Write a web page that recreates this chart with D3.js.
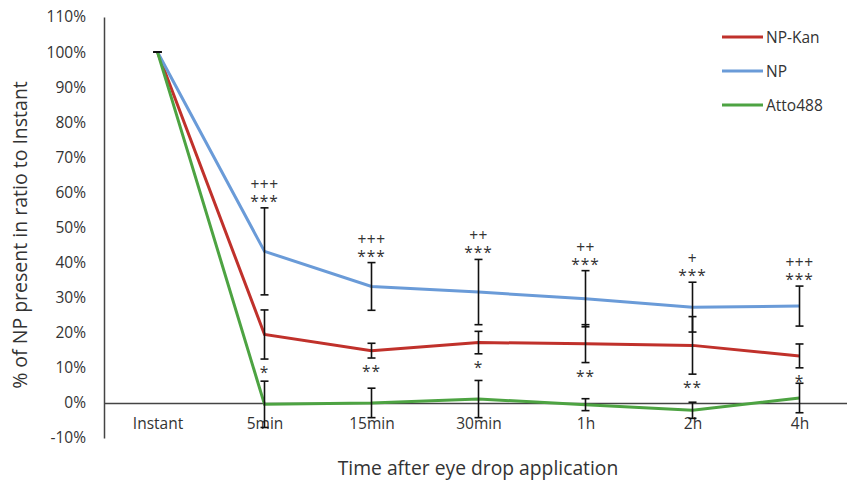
<!DOCTYPE html>
<html>
<head>
<meta charset="utf-8">
<script src="https://cdn.jsdelivr.net/npm/d3@7"></script>
<style>
  body { margin: 0; background: #fff; }
  text { font-family: "Open Sans", sans-serif; fill: #333; }
</style>
</head>
<body>
<div id="chart"></div>
<script>
// Kategorier och värden
const categories = ["Instant", "5min", "15min", "30min", "1h", "2h", "4h"];
const npKan = [1.00, 0.195, 0.149, 0.172, 0.169, 0.164, 0.134];
const npKanErr = [0, 0.070, 0.021, 0.032, 0.054, 0.082, 0.034];
const np = [1.00, 0.432, 0.332, 0.316, 0.297, 0.273, 0.276];
const npErr = [0, 0.124, 0.068, 0.093, 0.080, 0.071, 0.057];
const atto = [1.00, -0.004, 0.000, 0.011, -0.005, -0.021, 0.014];
const attoErr = [0, 0.066, 0.042, 0.053, 0.017, 0.023, 0.042];
const plusLabels = ["", "+++", "+++", "++", "++", "+", "+++"];
const starsNP = ["", "***", "***", "***", "***", "***", "***"];
const starsKan = ["", "*", "**", "*", "**", "**", "*"];
const yTicks = [-0.1, 0, 0.1, 0.2, 0.3, 0.4, 0.5, 0.6, 0.7, 0.8, 0.9, 1.0, 1.1];

const width = 847, height = 484;

const series = [
  { name: "NP-Kan", values: npKan, err: npKanErr, color: "#c0312b" },
  { name: "NP", values: np, err: npErr, color: "#6a9bd8" },
  { name: "Atto488", values: atto, err: attoErr, color: "#4da342" }
];

const svg = d3.select("#chart").append("svg")
  .attr("width", width)
  .attr("height", height);

const x = d3.scalePoint().domain(categories).range([104, 853]).padding(0.5);
const y = d3.scaleLinear().domain([-0.1, 1.1]).range([438, 17]);

// y-axel
const yAxis = svg.append("g")
  .attr("transform", "translate(104,0)")
  .call(d3.axisLeft(y).tickValues(yTicks).tickSize(0).tickPadding(18)
    .tickFormat(d => Math.round(d * 100) + "%"));
yAxis.select(".domain").attr("stroke", "#444").attr("stroke-width", 1.5);
yAxis.selectAll("text").style("font-size", "15.5px").attr("fill", "#333");

// x-axel vid 0%
const xAxis = svg.append("g")
  .attr("transform", `translate(0,${y(0)})`)
  .call(d3.axisBottom(x).tickSize(0).tickPadding(15));
xAxis.select(".domain").attr("stroke", "#444").attr("stroke-width", 1.5);
xAxis.selectAll("text").style("font-size", "15.5px").attr("fill", "#333");

// axeltitlar
svg.append("text")
  .attr("x", 478).attr("y", 475)
  .attr("text-anchor", "middle")
  .style("font-size", "19.3px")
  .text("Time after eye drop application");

svg.append("text")
  .attr("transform", "translate(27,235) rotate(-90)")
  .attr("text-anchor", "middle")
  .style("font-size", "19.5px")
  .text("% of NP present in ratio to Instant");

// linjer
const line = d3.line()
  .x((d, i) => x(categories[i]))
  .y(d => y(d));

series.forEach(s => {
  svg.append("path")
    .datum(s.values)
    .attr("fill", "none")
    .attr("stroke", s.color)
    .attr("stroke-width", 3)
    .attr("d", line);
});

// felstaplar
const cap = 4;
series.forEach(s => {
  const g = svg.append("g").attr("stroke", "#111").attr("stroke-width", 1.6);
  s.values.forEach((v, i) => {
    const cx = x(categories[i]);
    const y1 = y(v + s.err[i]), y2 = y(v - s.err[i]);
    g.append("line").attr("x1", cx).attr("x2", cx).attr("y1", y1).attr("y2", y2);
    g.append("line").attr("x1", cx - cap).attr("x2", cx + cap).attr("y1", y1).attr("y2", y1);
    g.append("line").attr("x1", cx - cap).attr("x2", cx + cap).attr("y1", y2).attr("y2", y2);
  });
});

// signifikansmarkeringar: "+" över "*" i en och samma text
categories.forEach((c, i) => {
  const cx = x(c);
  const top = y(np[i] + npErr[i]);
  if (starsNP[i]) {
    const t = svg.append("text")
      .attr("x", cx).attr("y", top - 18)
      .attr("text-anchor", "middle");
    t.append("tspan")
      .attr("x", cx)
      .style("font-size", "15.5px")
      .style("letter-spacing", "0.5px")
      .text(plusLabels[i]);
    t.append("tspan")
      .attr("x", cx).attr("dy", 17)
      .style("font-size", "15.5px")
      .style("letter-spacing", "1px")
      .text(starsNP[i]);
  }
  const bottom = y(npKan[i] - npKanErr[i]);
  svg.append("text")
    .attr("x", cx).attr("y", bottom + 19)
    .attr("text-anchor", "middle")
    .style("font-size", "15.5px")
    .style("letter-spacing", "1px")
    .text(starsKan[i]);
});

// legend
const legend = svg.append("g");
series.forEach((s, i) => {
  const ly = 37 + i * 34;
  legend.append("line")
    .attr("x1", 722).attr("x2", 763)
    .attr("y1", ly).attr("y2", ly)
    .attr("stroke", s.color).attr("stroke-width", 3);
  legend.append("text")
    .attr("x", 766).attr("y", ly)
    .attr("dominant-baseline", "central")
    .style("font-size", "15.5px")
    .text(s.name);
});
</script>
</body>
</html>
